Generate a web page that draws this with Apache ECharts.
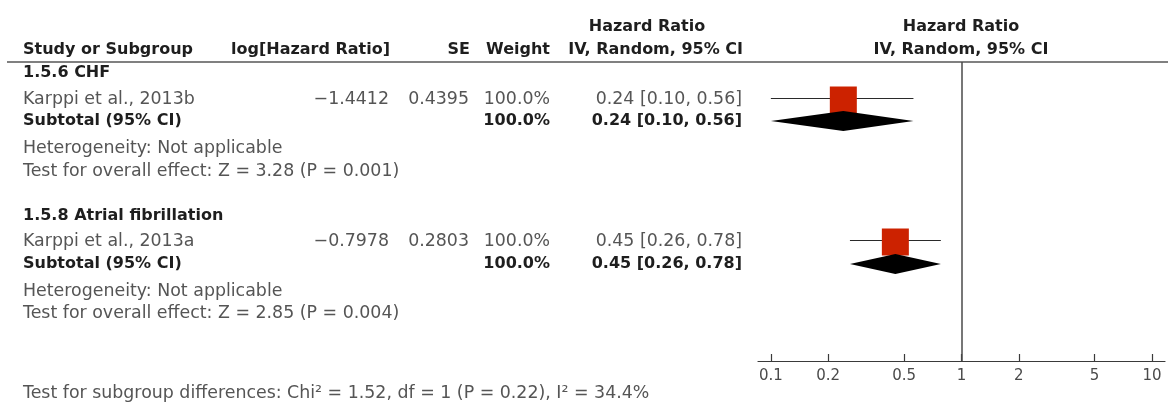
<!DOCTYPE html>
<html>
<head>
<meta charset="utf-8">
<script src="https://cdn.jsdelivr.net/npm/echarts@6/dist/echarts.min.js"></script>
<style>html,body{margin:0;padding:0;background:#fff}#c{width:1169px;height:419px}</style>
</head>
<body>
<div id="c"></div>
<script>
// ---------- DATA ----------
const subgroupNames = ['1.5.6 CHF', '1.5.8 Atrial fibrillation'];
const studyNames = ['Karppi et al., 2013b', 'Karppi et al., 2013a'];
const logHR = [-1.4412, -0.7978];
const seValues = [0.4395, 0.2803];
const studyWeight = [100.0, 100.0];
const studyHR = [0.24, 0.45];
const studyLo = [0.10, 0.26];
const studyHi = [0.56, 0.78];
const subtotalWeight = [100.0, 100.0];
const subtotalHR = [0.24, 0.45];
const subtotalLo = [0.10, 0.26];
const subtotalHi = [0.56, 0.78];
const heterogeneityText = ['Not applicable', 'Not applicable'];
const zValues = [3.28, 2.85];
const pValues = ['0.001', '0.004'];
const subgroupDiff = { chi2: 1.52, df: 1, p: '0.22', i2: 34.4 };
const tickValues = [0.1, 0.2, 0.5, 1, 2, 5, 10];
const tickLabels = ['0.1', '0.2', '0.5', '1', '2', '5', '10'];

// ---------- LAYOUT ----------
const PLOT = { left: 758, right: 1165, top: 62, bottom: 361 };
const AXIS_MIN = 0.0856, AXIS_MAX = 11.7;
// page y of each row, per subgroup
const ROWS = [
  { head: 73, study: 99, subtotal: 121, het: 148, test: 171 },
  { head: 216, study: 241, subtotal: 264, het: 291, test: 313 }
];
const COL = { name: 23, logHR: 389, se: 469, weight: 550, ci: 742 };
const FONT_REG = '17.4px "DejaVu Sans"';
const FONT_BOLD = 'bold 16px "DejaVu Sans"';
const C_REG = '#555';
const C_BOLD = '#1e1e1e';

const minus = v => (v < 0 ? '\u2212' : '') + Math.abs(v).toFixed(4);
const ciText = (h, l, u) => h.toFixed(2) + ' [' + l.toFixed(2) + ', ' + u.toFixed(2) + ']';

function txt(text, x, y, opt) {
  opt = opt || {};
  return {
    type: 'text', x: x, y: y, silent: true,
    style: {
      text: text,
      font: opt.bold ? FONT_BOLD : FONT_REG,
      fill: opt.bold ? C_BOLD : C_REG,
      align: opt.align || 'left',
      verticalAlign: 'middle'
    }
  };
}

const graphics = [];
// header
graphics.push(txt('Hazard Ratio', 647, 27, { bold: true, align: 'center' }));
graphics.push(txt('Hazard Ratio', 961, 27, { bold: true, align: 'center' }));
graphics.push(txt('Study or Subgroup', COL.name, 50, { bold: true }));
graphics.push(txt('log[Hazard Ratio]', COL.logHR + 1, 50, { bold: true, align: 'right' }));
graphics.push(txt('SE', COL.se + 1, 50, { bold: true, align: 'right' }));
graphics.push(txt('Weight', COL.weight, 50, { bold: true, align: 'right' }));
graphics.push(txt('IV, Random, 95% CI', COL.ci + 1, 50, { bold: true, align: 'right' }));
graphics.push(txt('IV, Random, 95% CI', 961, 50, { bold: true, align: 'center' }));
graphics.push({
  type: 'line', silent: true,
  shape: { x1: 7, y1: 62, x2: 1168, y2: 62 },
  style: { stroke: '#808080', lineWidth: 2 }
});

subgroupNames.forEach((name, i) => {
  const r = ROWS[i];
  graphics.push(txt(name, COL.name, r.head, { bold: true }));
  graphics.push(txt(studyNames[i], COL.name, r.study));
  graphics.push(txt(minus(logHR[i]), COL.logHR, r.study, { align: 'right' }));
  graphics.push(txt(seValues[i].toFixed(4), COL.se, r.study, { align: 'right' }));
  graphics.push(txt(studyWeight[i].toFixed(1) + '%', COL.weight, r.study, { align: 'right' }));
  graphics.push(txt(ciText(studyHR[i], studyLo[i], studyHi[i]), COL.ci, r.study, { align: 'right' }));
  graphics.push(txt('Subtotal (95% CI)', COL.name, r.subtotal, { bold: true }));
  graphics.push(txt(subtotalWeight[i].toFixed(1) + '%', COL.weight, r.subtotal, { bold: true, align: 'right' }));
  graphics.push(txt(ciText(subtotalHR[i], subtotalLo[i], subtotalHi[i]), COL.ci, r.subtotal, { bold: true, align: 'right' }));
  graphics.push(txt('Heterogeneity: ' + heterogeneityText[i], COL.name, r.het));
  graphics.push(txt('Test for overall effect: Z = ' + zValues[i].toFixed(2) + ' (P = ' + pValues[i] + ')', COL.name, r.test));
});
graphics.push(txt('Test for subgroup differences: Chi\u00B2 = ' + subgroupDiff.chi2.toFixed(2) +
  ', df = ' + subgroupDiff.df + ' (P = ' + subgroupDiff.p + '), I\u00B2 = ' + subgroupDiff.i2.toFixed(1) + '%',
  COL.name, 393));

const studyData = studyHR.map((h, i) => [h, studyLo[i], studyHi[i], ROWS[i].study]);
const subtotalData = subtotalHR.map((h, i) => [h, subtotalLo[i], subtotalHi[i], ROWS[i].subtotal]);

const chart = echarts.init(document.getElementById('c'), null, { renderer: 'canvas' });
chart.setOption({
  animation: false,
  backgroundColor: '#fff',
  grid: { left: PLOT.left, top: PLOT.top, width: PLOT.right - PLOT.left, height: PLOT.bottom - PLOT.top, containLabel: false },
  xAxis: {
    type: 'log', logBase: 10, min: AXIS_MIN, max: AXIS_MAX,
    axisLine: { show: true, lineStyle: { color: '#3a3a3a', width: 1.2 } },
    axisTick: { show: true, inside: true, length: 7, customValues: tickValues, lineStyle: { color: '#3a3a3a', width: 1.2 } },
    axisLabel: {
      show: true, customValues: tickValues, margin: 8,
      fontFamily: 'DejaVu Sans', fontSize: 15, color: '#4a4a4a',
      formatter: v => { const k = tickValues.findIndex(t => Math.abs(t - v) < 1e-9); return k >= 0 ? tickLabels[k] : ''; }
    },
    splitLine: { show: false }
  },
  yAxis: { type: 'value', min: PLOT.top, max: PLOT.bottom, inverse: true, show: false },
  graphic: graphics,
  series: [
    {
      type: 'custom', clip: false, silent: true, data: studyData,
      renderItem: (params, api) => {
        const y = api.value(3);
        const p = api.coord([api.value(0), y]);
        const l = api.coord([api.value(1), y]);
        const h = api.coord([api.value(2), y]);
        return {
          type: 'group', children: [
            { type: 'line', shape: { x1: l[0], y1: l[1] - 0.5, x2: h[0], y2: h[1] - 0.5 }, style: { stroke: '#2a2a2a', lineWidth: 1 } },
            { type: 'rect', shape: { x: p[0] - 13.5, y: p[1] - 12.5, width: 27, height: 27 }, style: { fill: '#cc2200' } }
          ]
        };
      },
      markLine: {
        silent: true, symbol: 'none', label: { show: false },
        lineStyle: { color: '#4a4a4a', width: 1.5, type: 'solid' },
        data: [{ xAxis: 1 }]
      }
    },
    {
      type: 'custom', clip: false, silent: true, data: subtotalData,
      renderItem: (params, api) => {
        const y = api.value(3);
        const p = api.coord([api.value(0), y]);
        const l = api.coord([api.value(1), y]);
        const h = api.coord([api.value(2), y]);
        return {
          type: 'polygon',
          shape: { points: [[l[0], l[1]], [p[0], p[1] - 10], [h[0], h[1]], [p[0], p[1] + 10]] },
          style: { fill: '#000' }
        };
      }
    }
  ]
});
</script>
</body>
</html>
